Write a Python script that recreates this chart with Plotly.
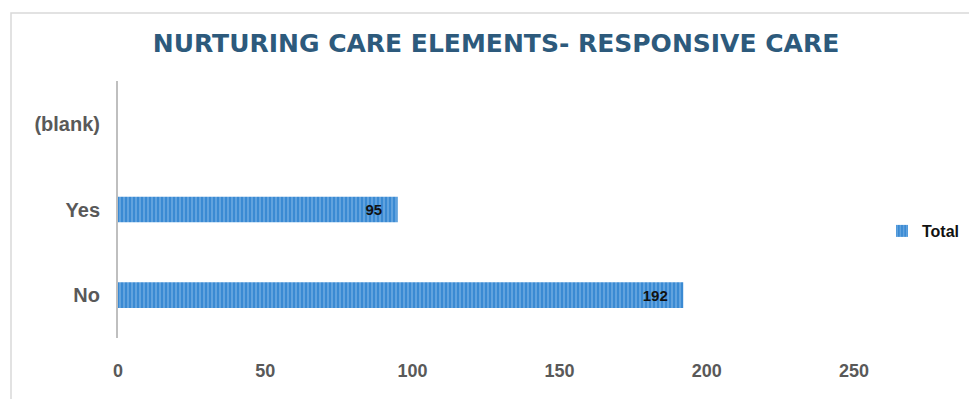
import plotly.graph_objects as go

# Responsive care responses (count per answer)
categories = ["No", "Yes", "(blank)"]
totals = [192, 95, None]
label_text = ["192", "95", ""]
x_ticks = [0, 50, 100, 150, 200, 250]

W, H = 969, 399
L, R, T, B = 118, 115, 81, 61
pw, ph = W - L - R, H - T - B

fig = go.Figure()
fig.add_trace(go.Bar(
    y=categories,
    x=totals,
    orientation="h",
    name="Total",
    width=0.3,
    text=label_text,
    texttemplate="%{text}\u00a0\u00a0\u00a0",
    textposition="inside",
    insidetextanchor="end",
    textfont=dict(family="Liberation Sans", size=15, color="#111111", weight="bold"),
    marker=dict(
        color="#3a8ad3",
        line=dict(width=0),
        pattern=dict(shape="|", fgcolor="#a8d0f2", size=4, solidity=0.35, fillmode="overlay"),
    ),
))

# outer chart frame (light grey)
fig.add_shape(
    type="rect", xref="paper", yref="paper",
    x0=(11 - L) / pw, x1=1.3, y0=-0.4, y1=(H - B - 13) / ph,
    line=dict(color="#d9d9d9", width=1.5), fillcolor="rgba(0,0,0,0)", layer="below",
)

fig.update_layout(
    width=W, height=H,
    margin=dict(l=L, r=R, t=T, b=B, autoexpand=False),
    paper_bgcolor="white", plot_bgcolor="white",
    title=dict(
        text="NURTURING CARE ELEMENTS- RESPONSIVE CARE",
        x=496 / W, xanchor="center", y=1 - 43 / H, yanchor="middle",
        font=dict(family="DejaVu Sans", size=25, color="#2d5a7c", weight="bold"),
    ),
    xaxis=dict(
        range=[0, 250], tickvals=x_ticks, showgrid=False, zeroline=False, showline=False,
        ticks="", ticklabelstandoff=20,
        tickfont=dict(family="Liberation Sans", size=18, color="#595959", weight="bold"),
    ),
    yaxis=dict(
        categoryorder="array", categoryarray=categories, range=[-0.5, 2.5],
        showgrid=False, zeroline=False, showline=True, linecolor="#bfbfbf", linewidth=2,
        ticks="", ticklabelstandoff=12,
        tickfont=dict(family="Liberation Sans", size=20, color="#595959", weight="bold"),
    ),
    showlegend=True,
    legend=dict(
        x=(882 - L) / pw, y=(H - B - 231) / ph, xanchor="left", yanchor="middle",
        font=dict(family="Liberation Sans", size=16, color="#111111", weight="bold"),
        itemwidth=30, bgcolor="rgba(0,0,0,0)",
    ),
)

fig.write_html("out.html")
